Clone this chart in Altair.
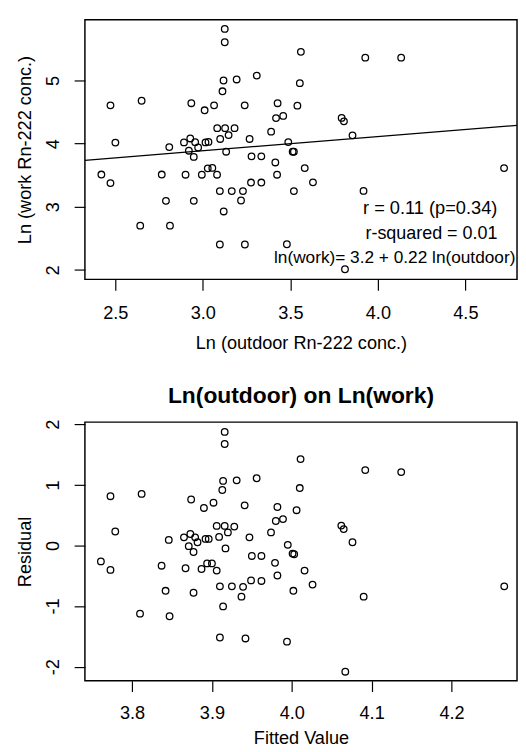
import altair as alt
import pandas as pd

# Top panel: Ln(outdoor) vs Ln(work)
outdoor = [3.125, 3.125, 3.308, 3.118, 3.193, 3.112, 2.472, 2.650, 2.934, 3.010,
           3.064, 3.239, 2.500, 2.808, 2.892, 2.928, 2.956, 2.920, 2.948, 3.015,
           3.032, 3.082, 3.127, 3.181, 3.099, 3.147, 3.133, 3.267, 3.278, 3.334,
           2.420, 2.472, 2.765, 2.901, 2.994, 3.028, 3.054, 3.081, 3.097, 3.165,
           3.229, 3.218, 3.275, 3.334, 2.789, 2.948, 3.119, 2.642, 2.812, 3.097,
           3.240, 3.560, 3.928, 4.133, 3.554, 3.427, 3.540, 3.418, 3.459, 3.390,
           3.793, 3.806, 3.855, 3.488, 3.513, 3.520, 3.414, 3.582, 3.424, 3.629,
           3.520, 3.918, 4.721, 3.480, 3.812, 2.973]
work = [5.816, 5.605, 5.078, 5.000, 5.016, 4.829, 4.606, 4.679, 4.640, 4.528,
        4.606, 4.606, 4.017, 3.945, 4.020, 4.082, 4.023, 3.888, 3.790, 4.020,
        4.027, 4.245, 4.245, 4.245, 4.074, 4.136, 3.872, 4.074, 3.799, 3.799,
        3.511, 3.376, 3.511, 3.508, 3.508, 3.609, 3.616, 3.508, 3.249, 3.249,
        3.249, 3.100, 3.384, 3.384, 3.094, 3.094, 2.926, 2.701, 2.701, 2.403,
        2.403, 5.454, 5.361, 5.361, 4.958, 4.640, 4.601, 4.404, 4.439, 4.190,
        4.407, 4.353, 4.131, 4.024, 3.872, 3.872, 3.702, 3.613, 3.508, 3.387,
        3.249, 3.252, 3.613, 2.407, 2.011, 3.939]

# Bottom panel: fitted values vs residuals
fitted = [3.916, 3.916, 3.956, 3.914, 3.931, 3.913, 3.773, 3.812, 3.874, 3.890,
          3.902, 3.941, 3.779, 3.846, 3.865, 3.873, 3.879, 3.871, 3.877, 3.892,
          3.896, 3.906, 3.916, 3.928, 3.909, 3.920, 3.917, 3.947, 3.950, 3.962,
          3.761, 3.773, 3.837, 3.867, 3.887, 3.894, 3.900, 3.906, 3.910, 3.925,
          3.939, 3.937, 3.949, 3.962, 3.842, 3.877, 3.914, 3.810, 3.847, 3.910,
          3.942, 4.011, 4.092, 4.137, 4.010, 3.982, 4.006, 3.980, 3.989, 3.974,
          4.062, 4.065, 4.076, 3.995, 4.001, 4.003, 3.979, 4.016, 3.982, 4.026,
          4.002, 4.090, 4.266, 3.994, 4.067, 3.882]
residual = [1.874, 1.675, 1.110, 1.066, 1.075, 0.916, 0.813, 0.851, 0.759, 0.619,
            0.706, 0.662, 0.231, 0.092, 0.134, 0.189, 0.134, -0.011, -0.108, 0.108,
            0.108, 0.323, 0.323, 0.312, 0.141, 0.215, -0.048, 0.134, -0.173, -0.173,
            -0.263, -0.404, -0.334, -0.376, -0.388, -0.296, -0.296, -0.415, -0.674, -0.674,
            -0.683, -0.845, -0.577, -0.586, -0.748, -0.780, -1.006, -1.126, -1.168, -1.519,
            -1.535, 1.426, 1.244, 1.212, 0.948, 0.635, 0.582, 0.404, 0.436, 0.215,
            0.328, 0.270, 0.053, 0.011, -0.134, -0.145, -0.286, -0.415, -0.496, -0.646,
            -0.748, -0.845, -0.674, -1.588, -2.084, 0.053]

ann_labels = ["r = 0.11 (p=0.34)", "r-squared = 0.01", "ln(work)= 3.2 + 0.22 ln(outdoor)"]
ann_x = [4.299, 4.306, 4.096]
ann_y = [2.880, 2.492, 2.112]

top_x_ticks = [2.5, 3.0, 3.5, 4.0, 4.5]
top_y_ticks = [2, 3, 4, 5]
bot_x_ticks = [3.8, 3.9, 4.0, 4.1, 4.2]
bot_y_ticks = [-2, -1, 0, 1, 2]

FONT = "Liberation Sans"
FS = 18.5

top_df = pd.DataFrame({"outdoor": outdoor, "work": work})
bot_df = pd.DataFrame({"fitted": fitted, "residual": residual})

xs_top = alt.Scale(domain=[2.326, 4.795], nice=False, zero=False)
ys_top = alt.Scale(domain=[1.851, 5.962], nice=False, zero=False)
xs_bot = alt.Scale(domain=[3.741, 4.282], nice=False, zero=False)
ys_bot = alt.Scale(domain=[-2.234, 2.036], nice=False, zero=False)

y_axis_common = dict(labelAngle=270, labelAlign="center", labelBaseline="bottom",
                     labelPadding=11.5, titlePadding=10, labelExpr="'' + datum.value")

x_top = alt.X("outdoor:Q", scale=xs_top,
              axis=alt.Axis(values=top_x_ticks, format=".1f", title="Ln (outdoor Rn-222 conc.)",
                            labelPadding=14, titlePadding=12.3))
y_top = alt.Y("work:Q", scale=ys_top,
              axis=alt.Axis(values=top_y_ticks, title="Ln (work Rn-222 conc.)", **y_axis_common))

pts_top = alt.Chart(top_df).mark_point(
    shape="circle", filled=False, color="black", size=45, strokeWidth=1.3, opacity=1
).encode(x=x_top, y=y_top)

fit_line = alt.Chart(top_df).transform_regression(
    "outdoor", "work", extent=[2.326, 4.795]
).mark_line(color="black", strokeWidth=1.3, clip=True).encode(x=x_top, y=y_top)

ann_sizes = [18.6, 18.3, 17.6]
ann_layers = []
for lab, ax, ay, fs in zip(ann_labels, ann_x, ann_y, ann_sizes):
    d = pd.DataFrame({"outdoor": [ax], "work": [ay], "label": [lab]})
    ann_layers.append(
        alt.Chart(d).mark_text(
            font=FONT, fontSize=fs, align="center", baseline="alphabetic", color="black"
        ).encode(x=x_top, y=y_top, text="label:N")
    )

top = alt.layer(pts_top, fit_line, *ann_layers).properties(width=441, height=265)

bottom = alt.Chart(bot_df).mark_point(
    shape="circle", filled=False, color="black", size=45, strokeWidth=1.3, opacity=1
).encode(
    x=alt.X("fitted:Q", scale=xs_bot,
            axis=alt.Axis(values=bot_x_ticks, format=".1f", title="Fitted Value",
                          labelPadding=12.5, titlePadding=7.5)),
    y=alt.Y("residual:Q", scale=ys_bot,
            axis=alt.Axis(values=bot_y_ticks, title="Residual", **y_axis_common)),
).properties(
    width=441, height=264,
    title=alt.TitleParams("Ln(outdoor) on Ln(work)", offset=11),
)

chart = alt.vconcat(top, bottom, spacing=30.7).properties(
    padding={"left": 6.5, "top": 3.3, "right": 0, "bottom": -4},
    background="white",
).configure_view(
    stroke="black", strokeWidth=1.5
).configure_axis(
    grid=False, domain=False, tickColor="black", tickSize=11, tickWidth=1.2,
    labelFont=FONT, labelFontSize=FS, labelColor="black",
    titleFont=FONT, titleFontSize=FS, titleFontWeight="normal", titleColor="black",
    labelFlush=False, labelOverlap=False,
).configure_title(
    font=FONT, fontSize=23.3, fontWeight="bold", color="black", anchor="middle"
)

chart.save("out.html", embed_options={"renderer": "svg", "actions": False})
